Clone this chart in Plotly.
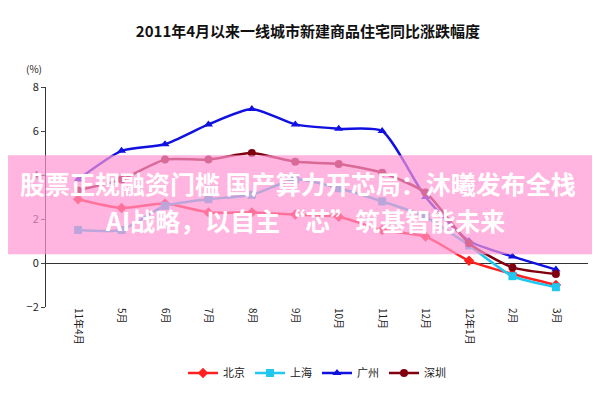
import plotly.graph_objects as go

months = ["11年4月","5月","6月","7月","8月","9月","10月","11月","12月","12年1月","2月","3月"]
beijing = [2.9, 2.5, 2.7, 2.3, 2.3, 2.2, 2.1, 1.5, 1.2, 0.1, -0.5, -1.0]
shanghai = [1.5, 1.5, 2.6, 2.9, 3.1, 3.8, 3.4, 2.8, 2.1, 0.8, -0.6, -1.1]
guangzhou = [3.8, 5.1, 5.4, 6.3, 7.0, 6.3, 6.1, 6.0, 3.0, 1.0, 0.3, -0.3]
shenzhen = [3.3, 3.8, 4.7, 4.7, 5.0, 4.6, 4.5, 4.1, 3.2, 0.9, -0.2, -0.5]

series = [
    ("北京", beijing, "#ff2020", "diamond"),
    ("上海", shanghai, "#20c8f0", "square"),
    ("广州", guangzhou, "#1010e0", "triangle-up"),
    ("深圳", shenzhen, "#800010", "circle"),
]
fig = go.Figure()
for name, vals, col, sym in series:
    fig.add_trace(go.Scatter(x=months, y=vals, name=name, mode="lines+markers",
                             line=dict(color=col, width=2.5, shape="spline", smoothing=0.6),
                             marker=dict(symbol=sym, size=8, color=col)))
F = "Noto Sans CJK SC"
fig.update_layout(
    width=600, height=400, paper_bgcolor="white", plot_bgcolor="white",
    margin=dict(l=38, r=20, t=79, b=101),
    font=dict(family=F, size=11, color="#222"),
    title=dict(text="<b>2011年4月以来一线城市新建商品住宅同比涨跌幅度</b>", x=0.5, y=0.955, xanchor="center",
               font=dict(size=15, color="#111", family=F)),
    showlegend=True,
    legend=dict(orientation="h", x=0.5, xanchor="center", y=-0.3, yanchor="middle",
                font=dict(size=11)),
    xaxis=dict(tickangle=90, showgrid=False, showline=False, ticks="", zeroline=False,
               tickfont=dict(size=10)),
    yaxis=dict(range=[-2, 8], dtick=2, showgrid=False, showline=True, linecolor="#333",
               ticks="outside", ticklen=4, zeroline=True, zerolinecolor="#333", zerolinewidth=1),
    annotations=[dict(text="(%)", xref="paper", yref="paper", x=-0.04, y=1.04, showarrow=False,
                      xanchor="left", yanchor="bottom", font=dict(size=10)),
                 dict(text="<b>股票正规融资门槛 国产算力开芯局：沐曦发布全栈</b>", xref="paper", yref="paper",
                      x=0.465, y=0.565, xanchor="center", showarrow=False, font=dict(size=25, color="white", family=F)),
                 dict(text="<b>AI战略，以自主“芯”筑基智能未来</b>", xref="paper", yref="paper",
                      x=0.105, y=0.395, xanchor="left", showarrow=False, font=dict(size=25, color="white", family=F))],
    shapes=[dict(type="rect", xref="paper", yref="paper", x0=-0.07, x1=1.04,
                 y0=0.24, y1=0.69, fillcolor="rgba(255,150,210,0.7)", line=dict(width=0), layer="above")],
)
fig.write_html("out.html")
